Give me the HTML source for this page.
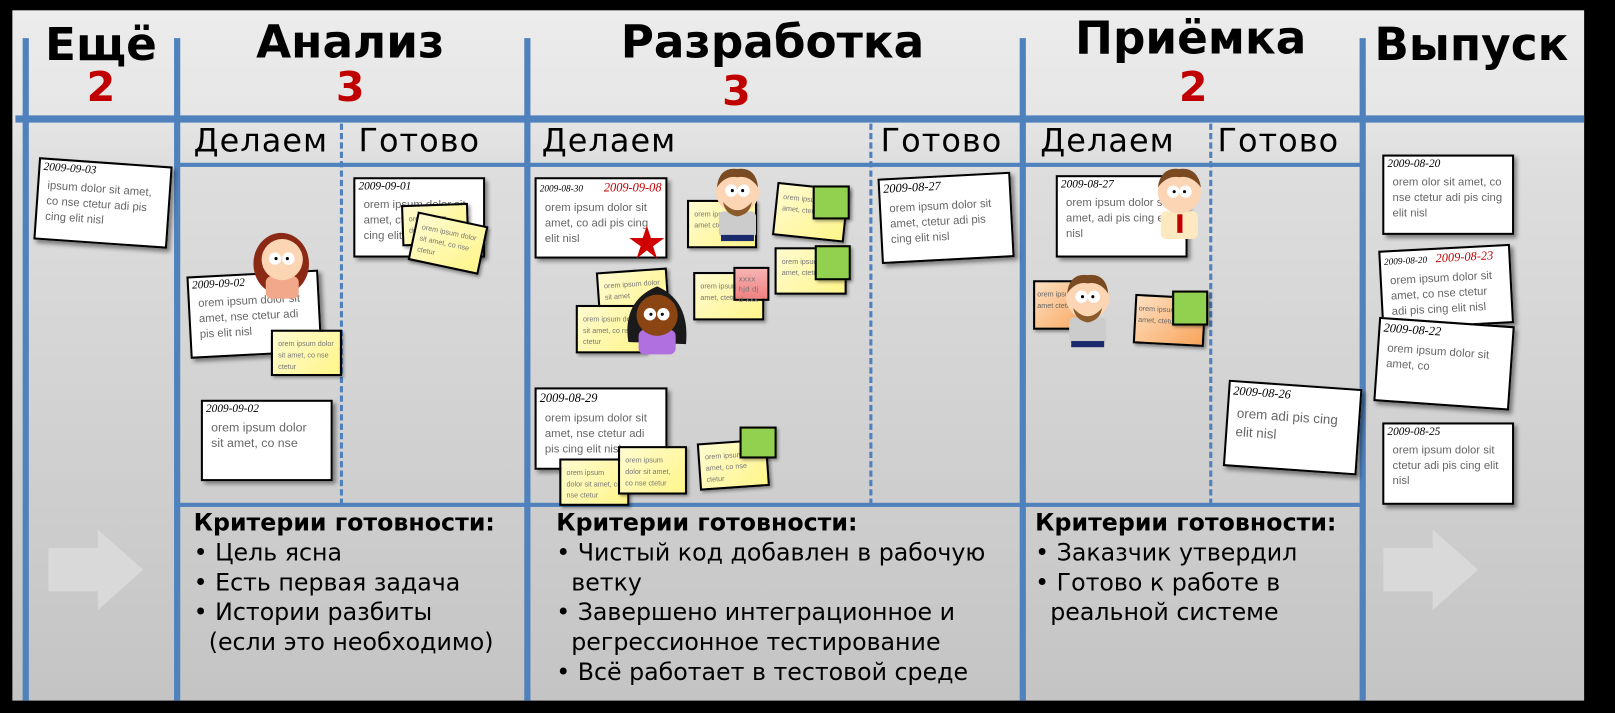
<!DOCTYPE html>
<html><head><meta charset="utf-8">
<style>
html,body{margin:0;padding:0;background:#000;width:1615px;height:713px;overflow:hidden}
#w{position:absolute;left:0;top:0;width:1568px;height:692px;transform:scale(1.0300,1.0303);transform-origin:0 0;font-family:"DejaVu Sans","Liberation Sans",sans-serif}
.a{position:absolute}
#board{left:12px;top:10px;width:1526px;height:670px;background:linear-gradient(#ececec 0,#e6e6e6 100px,#dedede 150px,#c4c4c4 670px)}
.v{position:absolute;width:6px;background:#4f81bd;top:37px;height:643px}
.h{position:absolute;background:#4f81bd}
.d{position:absolute;width:0;top:120px;height:370px;border-left:3px dashed #4f81bd}
.t{position:absolute;font-weight:bold;font-size:44px;color:#000;text-align:center;white-space:nowrap;font-family:"DejaVu Sans",sans-serif}
.n{position:absolute;font-weight:bold;font-size:40px;color:#c00000;text-align:center}
.s{position:absolute;font-size:31px;color:#000;white-space:nowrap;top:119px;font-family:"DejaVu Sans",sans-serif;letter-spacing:1px}
.c{position:absolute;background:#fff;border:2px solid #000;box-shadow:3px 3px 4px rgba(0,0,0,.45);box-sizing:border-box;overflow:hidden}
.c .dt{font-family:"Liberation Serif",serif;font-style:italic;font-size:11px;padding:1px 3px;white-space:nowrap}
.c .tx{font-size:11px;color:#666;padding:4px 8px;line-height:15px;font-family:"Liberation Sans",sans-serif}
.y{position:absolute;background:linear-gradient(135deg,#fffbd0,#fff58a);border:2px solid #000;box-shadow:2px 2px 3px rgba(0,0,0,.4);box-sizing:border-box;font-size:7px;color:#777;padding:7px 5px;line-height:11px;overflow:hidden;font-family:"Liberation Sans",sans-serif}
.o{position:absolute;background:linear-gradient(135deg,#fde0c0,#f9a45c);border:2px solid #000;box-shadow:2px 2px 3px rgba(0,0,0,.4);box-sizing:border-box;font-size:7px;color:#666;padding:7px 2px;line-height:11px;overflow:hidden;font-family:"Liberation Sans",sans-serif}
.g{position:absolute;background:#92d050;border:2px solid #000;box-sizing:border-box;box-shadow:2px 2px 3px rgba(0,0,0,.4)}
.k{position:absolute;font-size:23px;line-height:29px;color:#000;white-space:nowrap;font-family:"DejaVu Sans",sans-serif}
</style></head><body>
<div id="w">
<div id="board" class="a"></div>
<div class="v" style="left:22px"></div>
<div class="v" style="left:169px"></div>
<div class="v" style="left:509px"></div>
<div class="v" style="left:990px"></div>
<div class="v" style="left:1320px"></div>
<div class="h" style="left:15px;top:112px;width:1523px;height:7px"></div>
<div class="h" style="left:172px;top:158px;width:1151px;height:4px"></div>
<div class="h" style="left:172px;top:488px;width:1151px;height:4px"></div>
<div class="d" style="left:330px"></div>
<div class="d" style="left:844px"></div>
<div class="d" style="left:1174px"></div>

<div class="t" style="left:28px;width:140px;top:18px">Ещё</div>
<div class="n" style="left:28px;width:140px;top:62px">2</div>
<div class="t" style="left:175px;width:330px;top:16px">Анализ</div>
<div class="n" style="left:175px;width:330px;top:62px">3</div>
<div class="t" style="left:515px;width:470px;top:16px">Разработка</div>
<div class="n" style="left:515px;width:400px;top:66px">3</div>
<div class="t" style="left:996px;width:320px;top:12px">Приёмка</div>
<div class="n" style="left:996px;width:325px;top:62px">2</div>
<div class="t" style="left:1326px;width:205px;top:18px">Выпуск</div>

<div class="s" style="left:188px">Делаем</div>
<div class="s" style="left:348px">Готово</div>
<div class="s" style="left:526px">Делаем</div>
<div class="s" style="left:855px">Готово</div>
<div class="s" style="left:1010px">Делаем</div>
<div class="s" style="left:1182px">Готово</div>

<div class="c" style="left:35px;top:157px;width:130px;height:80px;transform:rotate(4deg)"><div class="dt">2009-09-03</div><div class="tx">ipsum dolor sit amet, co nse ctetur adi pis cing elit nisl</div></div>

<div class="c" style="left:343px;top:172px;width:128px;height:78px"><div class="dt">2009-09-01</div><div class="tx">orem ipsum dolor sit amet, ctetur adi pis cing elit</div></div>
<div class="y" style="left:390px;top:198px;width:65px;height:40px;transform:rotate(-2deg)">orem ipsum dolor sit amet</div>
<div class="y" style="left:400px;top:212px;width:70px;height:48px;transform:rotate(12deg)">orem ipsum dolor sit amet, co nse ctetur</div>

<div class="c" style="left:183px;top:265px;width:128px;height:80px;transform:rotate(-3deg)"><div class="dt">2009-09-02</div><div class="tx">orem ipsum dolor sit amet, nse ctetur adi pis elit nisl</div></div>
<div class="y" style="left:263px;top:320px;width:69px;height:45px">orem ipsum dolor sit amet, co nse ctetur</div>
<svg class="a" style="left:240px;top:218px" width="70" height="72"><ellipse cx="33" cy="38" rx="27" ry="30" fill="#8b2a14"/><rect x="18" y="50" width="32" height="22" rx="6" fill="#f2a88a"/><circle cx="34" cy="34" r="20" fill="#fcd5b4"/><circle cx="27" cy="33" r="6" fill="#fff"/><circle cx="40" cy="33" r="6" fill="#fff"/><circle cx="28" cy="33" r="1.5"/><circle cx="39" cy="33" r="1.5"/></svg>
<div class="c" style="left:195px;top:388px;width:128px;height:79px"><div class="dt">2009-09-02</div><div class="tx" style="font-size:12px">orem ipsum dolor sit amet, co nse</div></div>

<div class="c" style="left:519px;top:172px;width:129px;height:79px"><div class="dt" style="font-size:9px">2009-08-30 <span style="color:#c00000;font-size:12px;margin-left:18px">2009-09-08</span></div><div class="tx">orem ipsum dolor sit amet, co adi pis cing elit nisl</div></div>
<svg class="a" style="left:610px;top:218px" width="36" height="34"><polygon points="18,1 22,13 35,13 24,21 28,33 18,25 8,33 12,21 1,13 14,13" fill="#d00000"/></svg>
<div class="y" style="left:667px;top:194px;width:68px;height:47px">orem ipsum sit amet ctetur</div>
<svg class="a" style="left:688px;top:160px" width="56" height="75"><rect x="10" y="45" width="36" height="26" rx="5" fill="#ccc"/><rect x="12" y="68" width="32" height="6" fill="#1a2a6c"/><circle cx="28" cy="26" r="21" fill="#fcd5b4"/><path d="M8 22 Q10 2 28 4 Q46 2 48 22 Q40 10 28 12 Q16 10 8 22Z" fill="#7a4a22"/><path d="M14 36 Q28 52 42 36 Q40 48 28 50 Q16 48 14 36Z" fill="#8a5a2a"/><circle cx="22" cy="25" r="6" fill="#fff"/><circle cx="34" cy="25" r="6" fill="#fff"/><circle cx="23" cy="25" r="1.5"/><circle cx="33" cy="25" r="1.5"/></svg>
<div class="y" style="left:752px;top:180px;width:70px;height:52px;transform:rotate(6deg)">orem ipsum sit amet, ctetur</div>
<div class="g" style="left:789px;top:180px;width:36px;height:33px"></div>
<div class="y" style="left:752px;top:240px;width:70px;height:46px">orem ipsum sit amet, ctetur</div>
<div class="g" style="left:791px;top:238px;width:35px;height:34px"></div>
<div class="y" style="left:673px;top:264px;width:69px;height:47px">orem ipsum sit amet, ctetur</div>
<div class="a" style="left:712px;top:259px;width:35px;height:33px;background:linear-gradient(#f7b4b4,#f08080);border:2px solid #000;box-sizing:border-box;font-size:7px;color:#777;padding:5px 3px;line-height:10px">xxxx hjd dj d xxx</div>
<div class="y" style="left:580px;top:262px;width:69px;height:46px;transform:rotate(-4deg)">orem ipsum dolor sit amet</div>
<div class="y" style="left:559px;top:296px;width:69px;height:47px">orem ipsum dolor sit amet, co nse ctetur</div>
<svg class="a" style="left:604px;top:272px" width="68" height="76"><path d="M6 60 Q0 20 34 6 Q66 20 62 62 Z" fill="#1a1a1a"/><rect x="16" y="48" width="36" height="24" rx="6" fill="#b070e0"/><circle cx="34" cy="34" r="20" fill="#8b4513"/><circle cx="27" cy="33" r="6" fill="#fff"/><circle cx="40" cy="33" r="6" fill="#fff"/><circle cx="28" cy="33" r="1.5"/><circle cx="39" cy="33" r="1.5"/></svg>
<div class="c" style="left:519px;top:376px;width:129px;height:80px"><div class="dt" style="font-size:12px">2009-08-29</div><div class="tx">orem ipsum dolor sit amet, nse ctetur adi pis cing elit nisl</div></div>
<div class="y" style="left:543px;top:445px;width:68px;height:46px">orem ipsum dolor sit amet, co nse ctetur</div>
<div class="y" style="left:600px;top:433px;width:67px;height:47px">orem ipsum dolor sit amet, co nse ctetur</div>
<div class="y" style="left:678px;top:428px;width:68px;height:46px;transform:rotate(-4deg)">orem ipsum sit amet, co nse ctetur</div>
<div class="g" style="left:718px;top:414px;width:36px;height:31px"></div>
<div class="c" style="left:854px;top:170px;width:129px;height:83px;transform:rotate(-3deg)"><div class="dt" style="font-size:12px">2009-08-27</div><div class="tx">orem ipsum dolor sit amet, ctetur adi pis cing elit nisl</div></div>

<div class="c" style="left:1025px;top:170px;width:128px;height:80px"><div class="dt">2009-08-27</div><div class="tx">orem ipsum dolor sit amet, adi pis cing elit nisl</div></div>
<svg class="a" style="left:1117px;top:160px" width="56" height="75"><rect x="10" y="45" width="36" height="27" rx="5" fill="#fde9c0"/><rect x="26" y="48" width="5" height="18" fill="#c00000"/><circle cx="28" cy="26" r="21" fill="#fcd5b4"/><path d="M7 22 Q10 2 28 4 Q46 2 49 22 Q40 10 28 12 Q16 10 7 22Z" fill="#7a4a22"/><circle cx="22" cy="26" r="6" fill="#fff"/><circle cx="34" cy="26" r="6" fill="#fff"/><circle cx="23" cy="26" r="1.5"/><circle cx="33" cy="26" r="1.5"/></svg>
<div class="o" style="left:1003px;top:272px;width:57px;height:48px">orem ipsum sit amet ctetur</div>
<svg class="a" style="left:1028px;top:263px" width="56" height="75"><rect x="10" y="45" width="36" height="26" rx="5" fill="#ccc"/><rect x="12" y="68" width="32" height="6" fill="#1a2a6c"/><circle cx="28" cy="26" r="21" fill="#fcd5b4"/><path d="M8 22 Q10 2 28 4 Q46 2 48 22 Q40 10 28 12 Q16 10 8 22Z" fill="#7a4a22"/><path d="M14 36 Q28 52 42 36 Q40 48 28 50 Q16 48 14 36Z" fill="#8a5a2a"/><circle cx="22" cy="25" r="6" fill="#fff"/><circle cx="34" cy="25" r="6" fill="#fff"/><circle cx="23" cy="25" r="1.5"/><circle cx="33" cy="25" r="1.5"/></svg>
<div class="o" style="left:1101px;top:287px;width:69px;height:48px;transform:rotate(3deg)">orem ipsum sit amet, ctetur</div>
<div class="g" style="left:1138px;top:282px;width:35px;height:34px"></div>
<div class="c" style="left:1190px;top:373px;width:130px;height:84px;transform:rotate(4deg)"><div class="dt" style="font-size:12px">2009-08-26</div><div class="tx" style="font-size:13px;line-height:18px">orem adi pis cing elit nisl</div></div>

<div class="c" style="left:1342px;top:150px;width:128px;height:78px"><div class="dt">2009-08-20</div><div class="tx">orem olor sit amet, co nse ctetur adi pis cing elit nisl</div></div>
<div class="c" style="left:1340px;top:240px;width:128px;height:77px;transform:rotate(-3deg)"><div class="dt" style="font-size:9px">2009-08-20 <span style="color:#c00000;font-size:12px;margin-left:6px">2009-08-23</span></div><div class="tx">orem ipsum dolor sit amet, co nse ctetur adi pis cing elit nisl</div></div>
<div class="c" style="left:1336px;top:312px;width:132px;height:82px;transform:rotate(4deg)"><div class="dt" style="font-size:12px">2009-08-22</div><div class="tx">orem ipsum dolor sit amet, co</div></div>
<div class="c" style="left:1342px;top:410px;width:128px;height:80px"><div class="dt">2009-08-25</div><div class="tx">orem ipsum dolor sit ctetur adi pis cing elit nisl</div></div>

<svg class="a" style="left:45px;top:512px" width="96" height="82"><polygon points="2,20 50,20 50,2 94,41 50,80 50,62 2,62" fill="#d9d9d9"/></svg>
<svg class="a" style="left:1341px;top:512px" width="96" height="82"><polygon points="2,20 50,20 50,2 94,41 50,80 50,62 2,62" fill="#d9d9d9"/></svg>

<div class="k" style="left:188px;top:494px"><b>Критерии готовности:</b><br>• Цель ясна<br>• Есть первая задача<br>• Истории разбиты<br>&nbsp; (если это необходимо)</div>
<div class="k" style="left:540px;top:494px"><b>Критерии готовности:</b><br>• Чистый код добавлен в рабочую<br>&nbsp; ветку<br>• Завершено интеграционное и<br>&nbsp; регрессионное тестирование<br>• Всё работает в тестовой среде</div>
<div class="k" style="left:1005px;top:494px"><b>Критерии готовности:</b><br>• Заказчик утвердил<br>• Готово к работе в<br>&nbsp; реальной системе</div>
</div>
</body></html>
